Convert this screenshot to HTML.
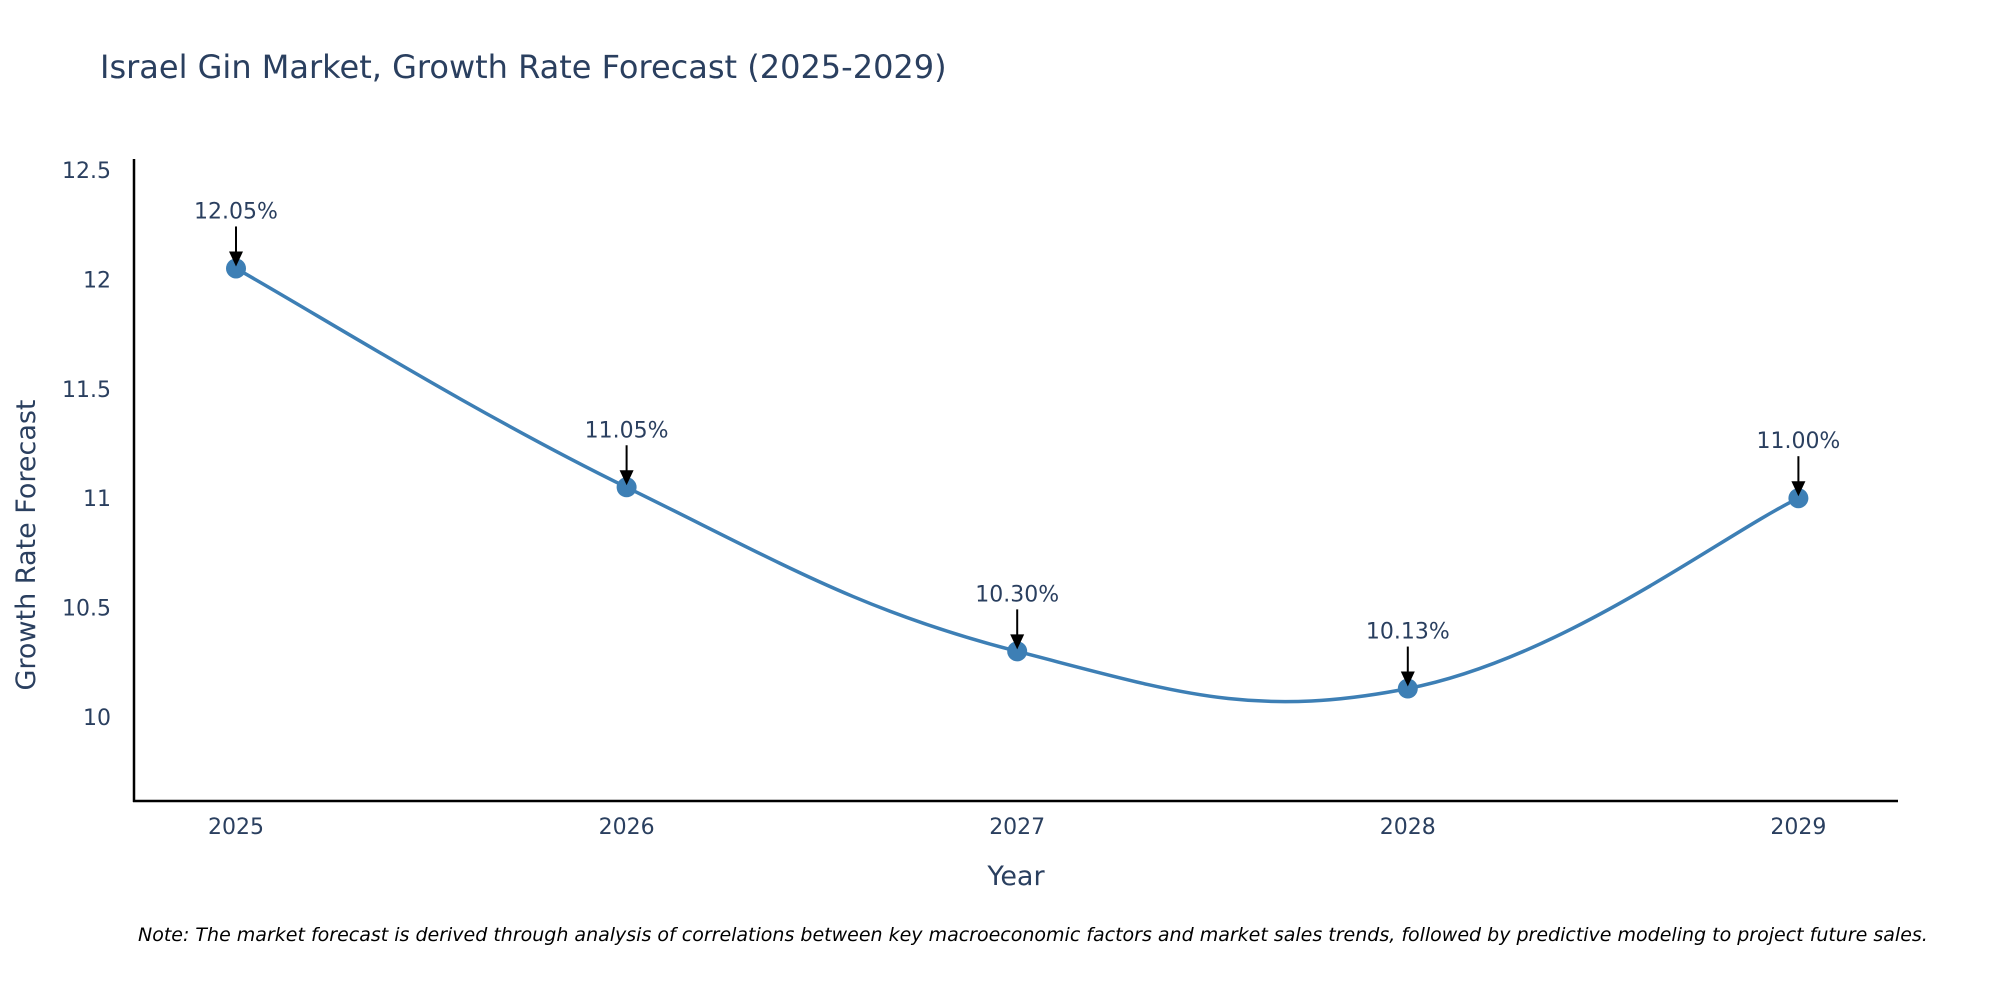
<!DOCTYPE html>
<html><head><meta charset="utf-8"><style>
body{margin:0;background:#fff;}
svg{display:block;font-family:"DejaVu Sans","Liberation Sans",sans-serif;}
</style></head><body>
<svg id="chart" width="2000" height="1000" viewBox="0 0 2000 1000">
<text x="100" y="78" font-size="32" fill="#2a3f5f">Israel Gin Market, Growth Rate Forecast (2025-2029)</text>
<g id="yticks"></g>
<g id="xticks"></g>
<line x1="134" y1="159" x2="134" y2="802" stroke="#000" stroke-width="2.5"/>
<line x1="133" y1="801" x2="1898" y2="801" stroke="#000" stroke-width="2.5"/>
<text transform="translate(35,545) rotate(-90)" text-anchor="middle" font-size="27" fill="#2a3f5f">Growth Rate Forecast</text>
<text x="1016" y="885" text-anchor="middle" font-size="27" fill="#2a3f5f">Year</text>
<g id="series"></g>
<text x="138" y="941" font-size="19" font-style="italic" fill="#000">Note: The market forecast is derived through analysis of correlations between key macroeconomic factors and market sales trends, followed by predictive modeling to project future sales.</text>
</svg>
<script>
const years = [2025, 2026, 2027, 2028, 2029];
const growth = [12.05, 11.05, 10.30, 10.13, 11.00];
const yTickValues = [10, 10.5, 11, 11.5, 12, 12.5];
const yTickLabels = ["10", "10.5", "11", "11.5", "12", "12.5"];

const NS = "http://www.w3.org/2000/svg";
const x = v => 236 + (v - 2025) * 390.6;
const y = v => 717 - (v - 10) * 218.8;
function mk(tag, attrs, parent, text) {
  const e = document.createElementNS(NS, tag);
  for (const k in attrs) e.setAttribute(k, attrs[k]);
  if (text !== undefined) e.textContent = text;
  parent.appendChild(e);
  return e;
}
const yt = document.getElementById('yticks');
yTickValues.forEach((v, i) => {
  const t = mk('text', {x: 111, y: y(v) + 8, 'text-anchor': 'end', 'font-size': 22, fill: '#2a3f5f'}, yt, yTickLabels[i]);
  
  
});
const xt = document.getElementById('xticks');
years.forEach(v => {
  const t = mk('text', {x: x(v), y: 834, 'text-anchor': 'middle', 'font-size': 22, fill: '#2a3f5f'}, xt, String(v));
  
  
});
const s = document.getElementById('series');
const pts = years.map((v, i) => [x(v), y(growth[i])]);
let d = `M${pts[0][0]},${pts[0][1]}`;
const k = 0.2;
for (let i = 0; i < pts.length - 1; i++) {
  const p0 = pts[Math.max(0, i - 1)], p1 = pts[i], p2 = pts[i + 1], p3 = pts[Math.min(pts.length - 1, i + 2)];
  const c1 = [p1[0] + (p2[0] - p0[0]) * k, p1[1] + (p2[1] - p0[1]) * k];
  const c2 = [p2[0] - (p3[0] - p1[0]) * k, p2[1] - (p3[1] - p1[1]) * k];
  d += ` C${c1[0]},${c1[1]} ${c2[0]},${c2[1]} ${p2[0]},${p2[1]}`;
}
const line = mk('path', {d: d, fill: 'none', stroke: '#3d7fb5', 'stroke-width': 3.5}, s);


pts.forEach((p, i) => {
  const c = mk('circle', {cx: p[0], cy: p[1], r: 10, fill: '#3d7fb5'}, s);
  
  
  const a = mk('line', {x1: p[0], y1: p[1] - 42, x2: p[0], y2: p[1] - 14, stroke: '#000', 'stroke-width': 2}, s);
  
  
  const h = mk('path', {d: `M${p[0] - 7},${p[1] - 17} L${p[0] + 7},${p[1] - 17} L${p[0]},${p[1] - 2} Z`, fill: '#000'}, s);
  
  
  const t = mk('text', {x: p[0], y: p[1] - 50, 'text-anchor': 'middle', 'font-size': 22, fill: '#2a3f5f'}, s, growth[i].toFixed(2) + '%');
  
  
});
</script>
</body></html>
